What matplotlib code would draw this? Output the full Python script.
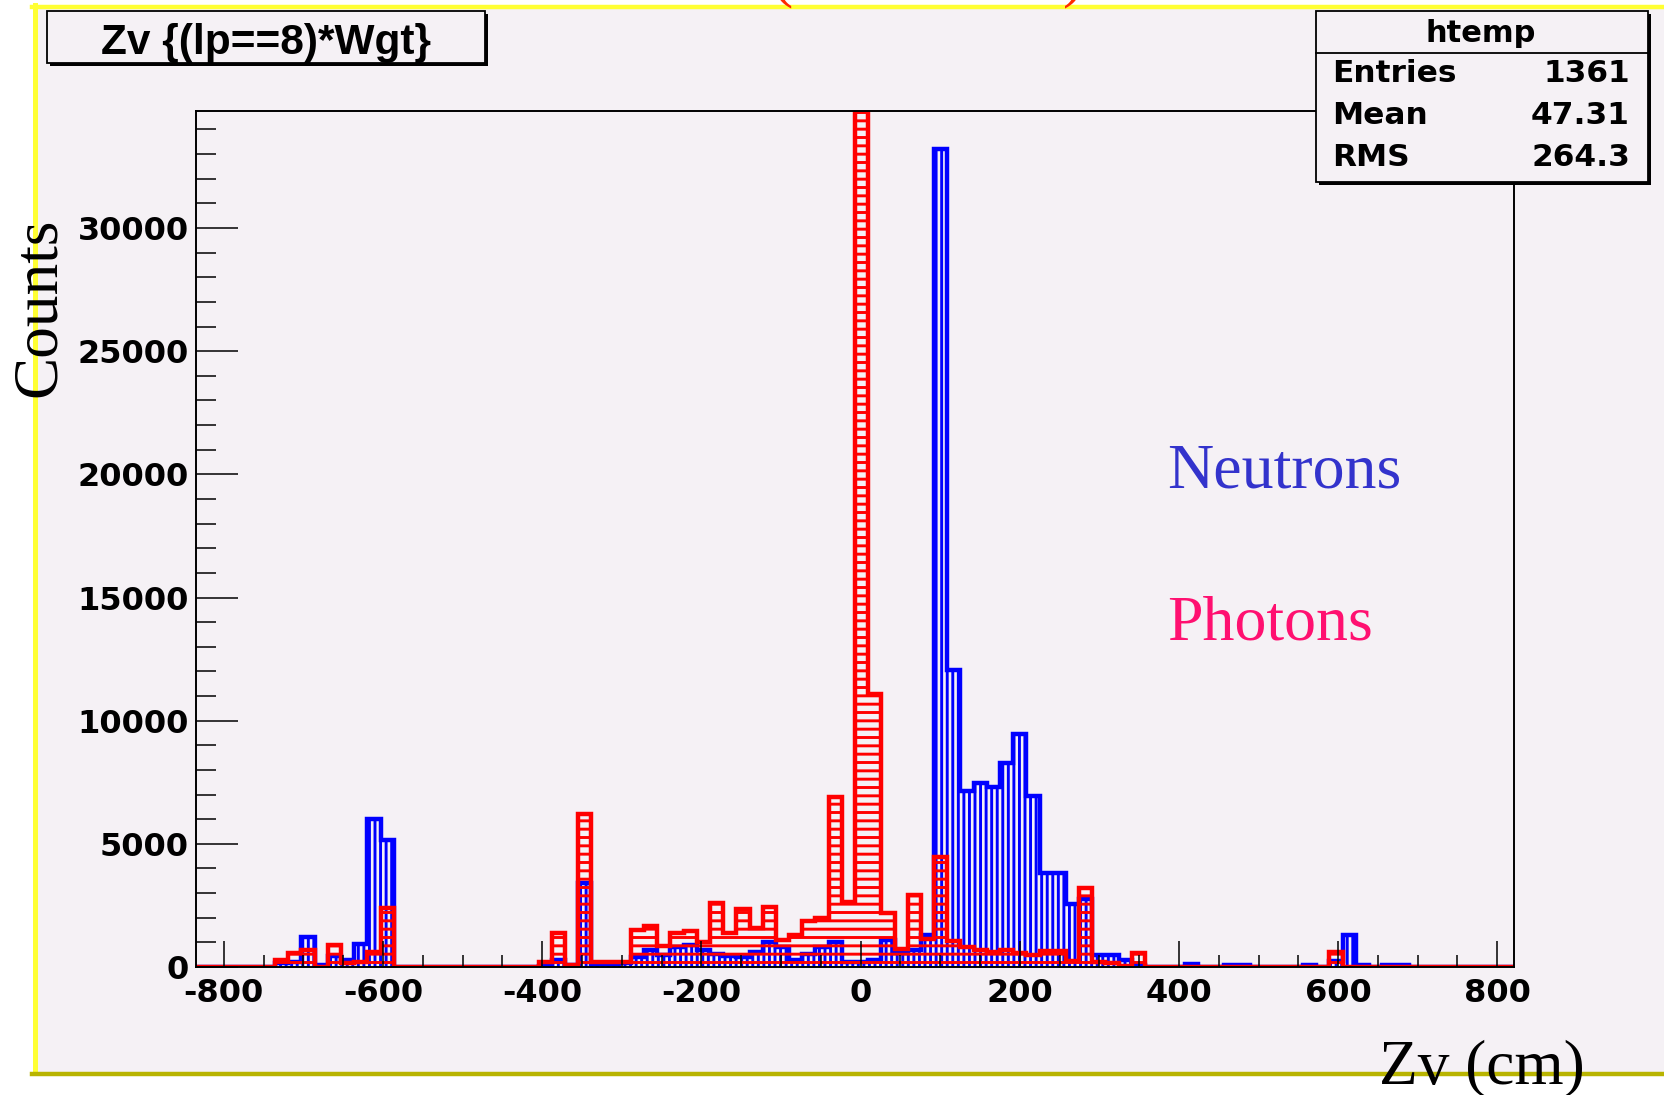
import numpy as np
import matplotlib
matplotlib.use("Agg")
import matplotlib.pyplot as plt
from matplotlib.patches import Rectangle
from matplotlib.lines import Line2D
from matplotlib.ticker import MultipleLocator

# Zv histograms for neutrons and photons, 100 bins over the htemp range
zv_lo, zv_hi, n_bins = -835.0, 821.0, 100

neutrons = [
    0, 0, 0, 0, 0, 0, 150, 200, 1200, 70,
    450, 300, 925, 6000, 5150, 0, 0, 0, 0, 0,
    0, 0, 0, 0, 0, 0, 50, 300, 100, 3400,
    120, 120, 150, 400, 680, 475, 820, 885, 680, 545,
    440, 400, 610, 1020, 820, 275, 545, 820, 1020, 210,
    210, 275, 1090, 550, 680, 1290, 33200, 12050, 7150, 7450,
    7300, 8300, 9450, 6950, 3800, 3800, 2550, 2750, 500, 500,
    280, 100, 0, 0, 0, 120, 0, 0, 100, 100,
    0, 0, 0, 0, 100, 0, 250, 1300, 100, 0,
    100, 100, 0, 0, 0, 0, 0, 0, 0, 0,
]
photons = [
    0, 0, 0, 0, 0, 0, 270, 560, 680, 0,
    900, 150, 200, 610, 2375, 0, 0, 0, 0, 0,
    0, 0, 0, 0, 0, 0, 200, 1400, 80, 6200,
    200, 200, 200, 1500, 1650, 850, 1400, 1450, 1000, 2600,
    1400, 2350, 1600, 2450, 1100, 1300, 1850, 2000, 6900, 2620,
    36000, 11100, 2180, 720, 2930, 1155, 4460, 1060, 830, 710,
    615, 710, 550, 480, 640, 640, 250, 3190, 200, 150,
    50, 570, 0, 0, 0, 0, 0, 0, 0, 0,
    0, 0, 0, 0, 0, 0, 610, 0, 0, 0,
    0, 0, 0, 0, 0, 0, 0, 0, 0, 0,
]

x_ticks = [-800, -600, -400, -200, 0, 200, 400, 600, 800]
y_ticks = [0, 5000, 10000, 15000, 20000, 25000, 30000]
y_top = 34750

stat_names = ["Entries", "Mean", "RMS"]
stat_values = ["1361", "47.31", "264.3"]

BG = "#f5f1f5"
W, H = 1664, 1095

plt.rcParams["hatch.linewidth"] = 2.1
plt.rcParams["axes.unicode_minus"] = False


def fx(x):
    return x / W


def fy(y):
    return 1 - y / H


def box(fig, x0, y0, x1, y1, shadow=3):
    # ROOT-style pave: black shadow offset to the lower right, then the frame
    fig.add_artist(Rectangle((fx(x0 + shadow), fy(y1 + shadow)), (x1 - x0) / W, (y1 - y0) / H,
                             transform=fig.transFigure, facecolor="black", edgecolor="none", zorder=5))
    fig.add_artist(Rectangle((fx(x0), fy(y1)), (x1 - x0) / W, (y1 - y0) / H,
                             transform=fig.transFigure, facecolor=BG, edgecolor="black",
                             linewidth=1.3, zorder=6))


fig = plt.figure(figsize=(W / 100, H / 100), dpi=100, facecolor="white")

# pad background and its coloured frame
fig.add_artist(Rectangle((fx(34), fy(1073)), (W - 34) / W, (1073 - 7) / H,
                         transform=fig.transFigure, facecolor=BG, edgecolor="none", zorder=0))
fig.add_artist(Line2D([fx(32), 1], [fy(7), fy(7)], transform=fig.transFigure,
                      color="#ffff33", linewidth=3.2, zorder=1))
fig.add_artist(Line2D([fx(34.5), fx(34.5)], [fy(5), fy(1073)], transform=fig.transFigure,
                      color="#ffff33", linewidth=3.6, zorder=1))
fig.add_artist(Line2D([fx(32), 1], [fy(1073.5), fy(1073.5)], transform=fig.transFigure,
                      color="#b8b400", linewidth=3.2, zorder=1))

# lower ends of the slide heading brackets above the pad
fig.text(fx(782), fy(-6), "(", ha="center", va="baseline",
         family="Liberation Serif", fontsize=46, color="#ff2a00", zorder=2)
fig.text(fx(1074), fy(-6), ")", ha="center", va="baseline",
         family="Liberation Serif", fontsize=46, color="#ff2a00", zorder=2)

ax = fig.add_axes([fx(196), fy(967), (1514 - 196) / W, (967 - 111) / H])
ax.set_facecolor(BG)

edges = np.linspace(zv_lo, zv_hi, n_bins + 1)

ax.stairs(neutrons, edges, fill=True, facecolor="none", edgecolor="#0000ff",
          hatch="|||", linewidth=0)
ax.stairs(neutrons, edges, color="#0000ff", linewidth=3.2, baseline=0)
ax.stairs(photons, edges, fill=True, facecolor="none", edgecolor="#ff0000",
          hatch="--", linewidth=0)
ax.stairs(photons, edges, color="#ff0000", linewidth=3.2, baseline=0)

ax.set_xlim(zv_lo, zv_hi)
ax.set_ylim(0, y_top)
ax.set_xticks(x_ticks)
ax.set_yticks(y_ticks)
ax.xaxis.set_minor_locator(MultipleLocator(50))
ax.yaxis.set_minor_locator(MultipleLocator(1000))

ax.tick_params(axis="x", which="major", direction="in", length=18.5, width=1.1, pad=8)
ax.tick_params(axis="x", which="minor", direction="in", length=8.5, width=1.1)
ax.tick_params(axis="y", which="major", direction="in", length=30, width=1.1, pad=5)
ax.tick_params(axis="y", which="minor", direction="in", length=14.5, width=1.1)
for lbl in ax.get_xticklabels() + ax.get_yticklabels():
    lbl.set_fontfamily("DejaVu Sans")
    lbl.set_fontweight("bold")
    lbl.set_fontsize(23)
for sp in ax.spines.values():
    sp.set_linewidth(1.4)

# title pave
box(fig, 47, 11, 485, 63)
fig.text(fx(266), fy(54), "Zv {(lp==8)*Wgt}", ha="center", va="baseline",
         family="Liberation Sans", weight="bold", fontsize=30.5, zorder=7)

# statistics pave
box(fig, 1316, 11, 1648, 182)
fig.add_artist(Line2D([fx(1316), fx(1648)], [fy(52.5), fy(52.5)], transform=fig.transFigure,
                      color="black", linewidth=1.3, zorder=7))
fig.text(fx(1481), fy(33), "htemp", ha="center", va="center",
         family="DejaVu Sans", weight="bold", fontsize=22, zorder=7)
for i, (name, val) in enumerate(zip(stat_names, stat_values)):
    yy = fy(73 + 42 * i)
    fig.text(fx(1332), yy, name, ha="left", va="center",
             family="DejaVu Sans", weight="bold", fontsize=22.5, zorder=7)
    fig.text(fx(1630), yy, val, ha="right", va="center",
             family="DejaVu Sans", weight="bold", fontsize=22.5, zorder=7)

# axis titles and annotations in Times
fig.text(fx(55), fy(307), "Counts", rotation=90, rotation_mode="anchor",
         ha="center", va="baseline", family="Liberation Serif", fontsize=45.5, zorder=7)
fig.text(fx(1482), fy(1083), "Zv (cm)", ha="center", va="baseline",
         family="Liberation Serif", fontsize=45.5, zorder=7)
fig.text(fx(1167), fy(487), "Neutrons", ha="left", va="baseline",
         family="Liberation Serif", fontsize=46, color="#3333cc", zorder=7)
fig.text(fx(1167), fy(639), "Photons", ha="left", va="baseline",
         family="Liberation Serif", fontsize=46, color="#ff1070", zorder=7)

fig.savefig("out.png", dpi=100, facecolor=fig.get_facecolor())
